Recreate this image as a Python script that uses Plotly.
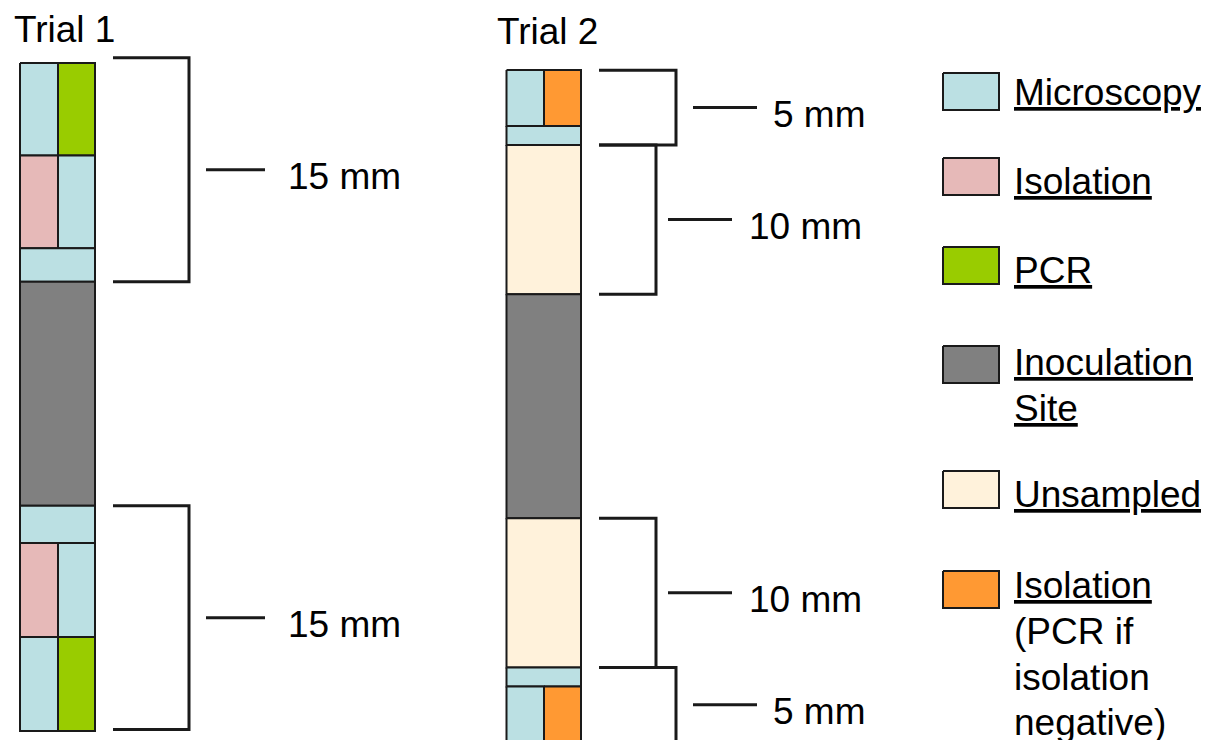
import plotly.graph_objects as go

# ------------------------------------------------------------------ data
CATEGORIES = ["Microscopy", "Isolation", "PCR", "Inoculation Site",
              "Unsampled", "Isolation (PCR if isolation negative)"]
CATEGORY_COLORS = ["#BBE0E3", "#E6B9B8", "#99CC00", "#808080",
                   "#FFF2DB", "#FF9933"]
LEGEND_LABELS = ["<u>Microscopy</u>", "<u>Isolation</u>", "<u>PCR</u>",
                 "<u>Inoculation</u><br><u>Site</u>", "<u>Unsampled</u>",
                 "<u>Isolation</u><br>(PCR if<br>isolation<br>negative)"]

TRIAL_NAMES = ["Trial 1", "Trial 2"]

# segment lengths along the stem (mm), top to bottom
TRIAL1_SEGMENT_MM = [6.2, 6.2, 2.25, 15.0, 2.5, 6.3, 6.3]
TRIAL1_LEFT = ["Microscopy", "Isolation", "Microscopy", "Inoculation Site",
               "Microscopy", "Isolation", "Microscopy"]
TRIAL1_RIGHT = ["PCR", "Microscopy", "", "", "", "Microscopy", "PCR"]
TRIAL1_BRACKET_MM = [15, 15]
TRIAL1_BRACKET_SIDE = ["above", "below"]

TRIAL2_SEGMENT_MM = [3.75, 1.27, 10.0, 15.0, 10.0, 1.27, 3.75]
TRIAL2_LEFT = ["Microscopy", "Microscopy", "Unsampled", "Inoculation Site",
               "Unsampled", "Microscopy", "Microscopy"]
TRIAL2_RIGHT = ["Isolation (PCR if isolation negative)", "", "", "", "", "",
                "Isolation (PCR if isolation negative)"]
TRIAL2_BRACKET_MM = [5, 10, 10, 5]
TRIAL2_BRACKET_SIDE = ["above", "above", "below", "below"]

# ------------------------------------------------------------------ layout / style
W, H = 1209, 740
PAGE_OFFSET = 8          # browser body margin: figure origin sits at page (8, 8)
PX_PER_MM = 14.93
FONT = "Liberation Sans, Arial, sans-serif"
FS = 37
EDGE = "#1a1a1a"

COLUMN_X = [(20, 58, 95), (506.5, 544, 581)]
COLUMN_TOP = [63, 70]
TITLE_POS = [(12.5, 29), (496, 31.5)]
BRACKET_ARM_X0 = [113, 599]
BRACKET_GEOM = [  # (vertical x, tick x0, tick x1, label x)
    [(189, 206, 265, 287), (189, 206, 265, 287)],
    [(676, 693, 757, 772), (656, 668, 732, 748), (656, 668, 732, 748),
     (676, 693, 757, 772)],
]
LEGEND_BOX_X = (943, 999)
LEGEND_BOX_Y = [73, 158, 247, 346, 471, 571]
LEGEND_BOX_H = 37
LEGEND_TEXT_X = 1013
LEGEND_TEXT_DY = [-2, 2, 2, -5, 2, -7]   # top of text block relative to box top
LEGEND_LINE_STEP = 45.8

color_of = dict(zip(CATEGORIES, CATEGORY_COLORS))

fig = go.Figure()


def rect(x0, x1, y0, y1, fill, lw=2, lc=EDGE):
    fig.add_trace(go.Scatter(
        x=[x0, x1, x1, x0, x0], y=[y0, y0, y1, y1, y0],
        mode="lines", fill="toself", fillcolor=fill,
        line=dict(color=lc, width=lw), hoverinfo="skip", showlegend=False))


def seg(xs, ys, lw=3):
    fig.add_trace(go.Scatter(
        x=xs, y=ys, mode="lines", line=dict(color=EDGE, width=lw),
        hoverinfo="skip", showlegend=False))


def text(x, y, s, xanchor="left", yanchor="middle"):
    fig.add_annotation(x=x, y=y, xref="x", yref="y", text=s, showarrow=False,
                       xanchor=xanchor, yanchor=yanchor, align="left",
                       borderpad=0,
                       font=dict(family=FONT, size=FS, color="black"))


trials = [
    (TRIAL1_SEGMENT_MM, TRIAL1_LEFT, TRIAL1_RIGHT, TRIAL1_BRACKET_MM, TRIAL1_BRACKET_SIDE),
    (TRIAL2_SEGMENT_MM, TRIAL2_LEFT, TRIAL2_RIGHT, TRIAL2_BRACKET_MM, TRIAL2_BRACKET_SIDE),
]

for t, (lengths, left, right, br_mm, br_side) in enumerate(trials):
    xl, xm, xr = COLUMN_X[t]
    y = COLUMN_TOP[t]
    site_top = site_bot = None
    for L, a, b in zip(lengths, left, right):
        y1 = y + L * PX_PER_MM
        if b:
            rect(xl, xm, y, y1, color_of[a])
            rect(xm, xr, y, y1, color_of[b])
        else:
            rect(xl, xr, y, y1, color_of[a])
        if a == "Inoculation Site":
            site_top, site_bot = y, y1
        y = y1

    # brackets stack outward from the inoculation site
    above = [i for i, s in enumerate(br_side) if s == "above"]
    below = [i for i, s in enumerate(br_side) if s == "below"]
    spans = {}
    yy = site_top
    for i in reversed(above):
        spans[i] = (yy - br_mm[i] * PX_PER_MM, yy)
        yy = spans[i][0]
    yy = site_bot
    for i in below:
        spans[i] = (yy, yy + br_mm[i] * PX_PER_MM)
        yy = spans[i][1]

    ax0 = BRACKET_ARM_X0[t]
    for i, mm in enumerate(br_mm):
        y0, y1 = spans[i]
        vx, tx0, tx1, lx = BRACKET_GEOM[t][i]
        seg([ax0, vx, vx, ax0], [y0, y0, y1, y1])
        ym = (y0 + y1) / 2
        seg([tx0, tx1], [ym, ym])
        text(lx, ym + 6.5, f"{mm} mm")

    tx, ty = TITLE_POS[t]
    text(tx, ty, TRIAL_NAMES[t])

# legend
for k, cat in enumerate(CATEGORIES):
    y0 = LEGEND_BOX_Y[k]
    rect(LEGEND_BOX_X[0], LEGEND_BOX_X[1], y0, y0 + LEGEND_BOX_H,
         CATEGORY_COLORS[k], lw=2)
    for j, line in enumerate(LEGEND_LABELS[k].split("<br>")):
        text(LEGEND_TEXT_X, y0 + LEGEND_TEXT_DY[k] + j * LEGEND_LINE_STEP,
             line, yanchor="top")

fig.update_layout(
    width=W, height=H, margin=dict(l=0, r=0, t=0, b=0),
    paper_bgcolor="white", plot_bgcolor="white", showlegend=False,
    xaxis=dict(range=[PAGE_OFFSET, W + PAGE_OFFSET], visible=False, fixedrange=True),
    yaxis=dict(range=[H + PAGE_OFFSET, PAGE_OFFSET], visible=False, fixedrange=True),
)

fig.write_html("out.html")
